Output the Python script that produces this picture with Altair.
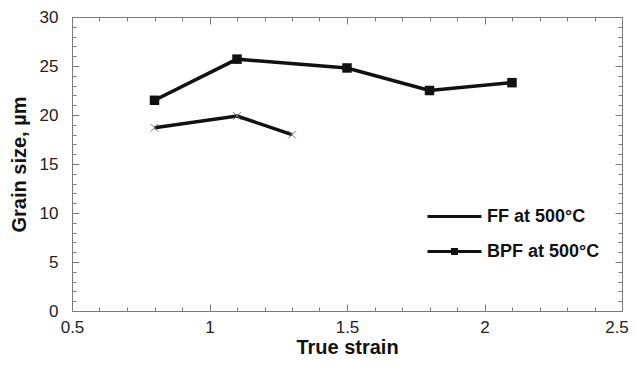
import altair as alt
import pandas as pd

# ---- data ----
ff_strain = [0.8, 1.1, 1.3]
ff_size = [18.7, 19.9, 18.0]
bpf_strain = [0.8, 1.1, 1.5, 1.8, 2.1]
bpf_size = [21.5, 25.7, 24.8, 22.5, 23.3]
series_names = ["FF at 500°C", "BPF at 500°C"]
x_major = [0.5, 1.0, 1.5, 2.0, 2.5]
y_major = [0, 5, 10, 15, 20, 25, 30]
x_minor = [round(0.5 + 0.1 * i, 1) for i in range(21)]
y_minor = list(range(0, 31))

df = pd.DataFrame({
    "strain": ff_strain + bpf_strain,
    "size": ff_size + bpf_size,
    "series": [series_names[0]] * len(ff_strain) + [series_names[1]] * len(bpf_strain),
})

FONT = "Liberation Sans"
W, H = 550, 294
FRAME = "#7a7a7a"
INK = "#111111"

xs = alt.Scale(domain=[0.5, 2.5], nice=False, zero=False)
ys = alt.Scale(domain=[0, 30], nice=False, zero=False)

LABEL = dict(labelFont=FONT, labelFontSize=17, labelColor="#222", labelFlush=False,
             labelOverlap=False)

ax_x_main = alt.Axis(orient="bottom", values=x_major[:-1], labelExpr="toString(datum.value)",
                     tickSize=0, domain=False, grid=False, labelPadding=8, **LABEL,
                     title="True strain", titleFont=FONT, titleFontSize=20,
                     titleFontWeight="bold", titleColor=INK, titlePadding=2)
ax_x_last = alt.Axis(orient="bottom", values=x_major[-1:], labelExpr="toString(datum.value)",
                     tickSize=0, domain=False, grid=False, labelPadding=8, labelOffset=-5.5,
                     **LABEL)
ax_y_main = alt.Axis(orient="left", values=y_major, tickSize=0, domain=False, grid=False,
                     labelPadding=14, **LABEL,
                     title="Grain size, µm", titleFont=FONT, titleFontSize=20,
                     titleFontWeight="bold", titleColor=INK, titlePadding=10)


def tick_axis(orient, offset, values, size):
    return alt.Axis(orient=orient, offset=offset, values=values, labels=False, domain=False,
                    grid=False, ticks=True, tickColor=FRAME, tickWidth=1, tickSize=size)


base = alt.Chart(df)

lines = base.mark_line(color=INK, strokeWidth=3.5).encode(
    x=alt.X("strain:Q", scale=xs, axis=ax_x_main),
    y=alt.Y("size:Q", scale=ys, axis=ax_y_main),
    detail="series:N",
)

ff_pts = base.transform_filter(alt.datum.series == series_names[0]).mark_point(
    shape="M-1,-1L1,1M-1,1L1,-1", filled=False, color="#777", strokeWidth=1, size=60, opacity=1
).encode(
    x=alt.X("strain:Q", scale=xs, title=None, axis=tick_axis("top", -H, x_major, 7)),
    y=alt.Y("size:Q", scale=ys, title=None, axis=tick_axis("right", -W, y_major, 7)),
)

bpf_pts = base.transform_filter(alt.datum.series == series_names[1]).mark_square(
    color=INK, size=90, opacity=1
).encode(
    x=alt.X("strain:Q", scale=xs, title=None, axis=tick_axis("bottom", -H, x_major, 7)),
    y=alt.Y("size:Q", scale=ys, title=None, axis=tick_axis("left", -W, y_major, 7)),
)

minor_a = base.mark_point(opacity=0).encode(
    x=alt.X("strain:Q", scale=xs, title=None, axis=tick_axis("top", -H, x_minor, 4)),
    y=alt.Y("size:Q", scale=ys, title=None, axis=tick_axis("right", -W, y_minor, 4)),
)

minor_b = base.mark_point(opacity=0).encode(
    x=alt.X("strain:Q", scale=xs, title=None, axis=tick_axis("bottom", -H, x_minor, 4)),
    y=alt.Y("size:Q", scale=ys, title=None, axis=tick_axis("left", -W, y_minor, 4)),
)

last_label = base.mark_point(opacity=0).encode(
    x=alt.X("strain:Q", scale=xs, title=None, axis=ax_x_last),
    y=alt.Y("size:Q", scale=ys, axis=None),
)

legend_layer = base.mark_point(filled=False, color=INK, strokeWidth=3, opacity=0).encode(
    x=alt.X("strain:Q", scale=xs, axis=None),
    y=alt.Y("size:Q", scale=ys, axis=None),
    shape=alt.Shape(
        "series:N",
        scale=alt.Scale(domain=series_names,
                        range=["M-2.7,0H2.7",
                               "M-2.7,0H2.7M-0.2,-0.2H0.2V0.2H-0.2Z"]),
        sort=series_names,
        legend=alt.Legend(orient="none", legendX=371, legendY=188, title=None,
                          symbolSize=400, symbolStrokeWidth=3, symbolStrokeColor=INK,
                          symbolFillColor=INK, symbolOpacity=1, labelFont=FONT,
                          labelFontSize=18, labelFontWeight="bold", labelColor=INK,
                          labelOffset=21, rowPadding=14, padding=0),
    ),
)

chart = alt.layer(lines, ff_pts, bpf_pts, minor_a, minor_b, last_label, legend_layer).resolve_axis(
    x="independent", y="independent"
).properties(
    width=W, height=H,
    padding={"left": 64, "top": 9, "right": 7, "bottom": 46},
    autosize=alt.AutoSizeParams(type="none"),
    background="white",
).configure_view(stroke=FRAME, strokeWidth=1)

chart.save("out.html", embed_options={"renderer": "svg", "actions": False})
